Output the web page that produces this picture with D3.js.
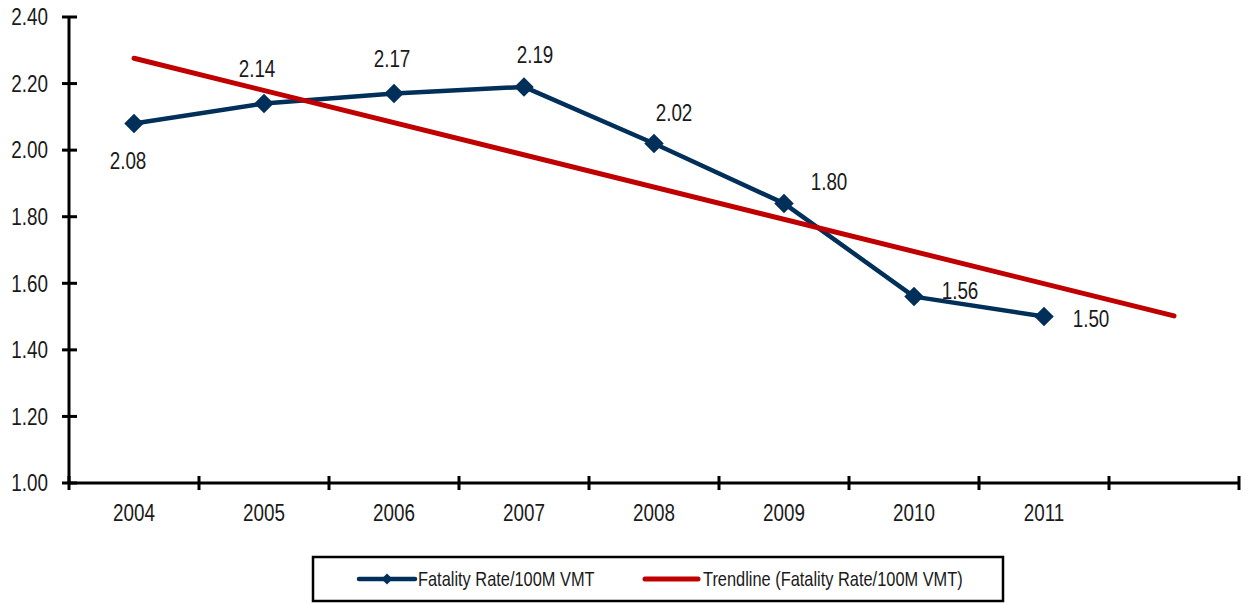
<!DOCTYPE html>
<html>
<head>
<meta charset="utf-8">
<script src="https://cdn.jsdelivr.net/npm/d3@7"></script>
<style>
  html, body { margin: 0; padding: 0; background: #fff; }
  svg { display: block; font-family: "Liberation Sans", Arial, sans-serif; }
</style>
</head>
<body>
<svg id="chart" width="1247" height="603"></svg>
<script>
// ---- data ----
const categories = ["2004", "2005", "2006", "2007", "2008", "2009", "2010", "2011", ""];
const fatalityRate = [2.08, 2.14, 2.17, 2.19, 2.02, 1.84, 1.56, 1.50];
const dataLabels = ["2.08", "2.14", "2.17", "2.19", "2.02", "1.80", "1.56", "1.50"];
const trendIndex = [0, 8];
const trendValues = [2.276, 1.502];
const yTicks = [1.00, 1.20, 1.40, 1.60, 1.80, 2.00, 2.20, 2.40];
const seriesNames = ["Fatality Rate/100M VMT", "Trendline (Fatality Rate/100M VMT)"];

(function () {
// ---- styles / layout ----
const navy = "#00305a";
const red = "#c00000";
const txt = "#1a1a1a";
const fs = 23;
const narrow = 0.82; // emulate a narrow (condensed) face
const labelOffsets = [[-6, 37], [-7, -35], [-2, -35], [11, -32], [20, -31], [45, -22], [46, -6], [47, 2]];

const svg = d3.select("#chart");
const pL = 69, pR = 1239, pT = 17, pB = 483;

const x = d3.scaleBand().domain(d3.range(categories.length)).range([pL, pR]).padding(0);
const cx = i => x(i) + x.bandwidth() / 2;
const y = d3.scaleLinear().domain([1.0, 2.4]).range([pB, pT]);

// helper: place condensed text
function place(sel, fx, fy) {
  sel.attr("x", 0).attr("y", 0)
     .attr("transform", (d, i) => `translate(${fx(d, i)},${fy(d, i)}) scale(${narrow},1)`);
  return sel;
}

// Y axis
const yAxis = svg.append("g").attr("transform", `translate(${pL},0)`);
yAxis.append("line").attr("x1", 0).attr("x2", 0).attr("y1", pT).attr("y2", pB)
  .attr("stroke", "#000").attr("stroke-width", 3);
yAxis.selectAll("line.tick").data(yTicks).enter().append("line").attr("class", "tick")
  .attr("x1", -7).attr("x2", 8).attr("y1", d => y(d)).attr("y2", d => y(d))
  .attr("stroke", "#000").attr("stroke-width", 3);
place(yAxis.selectAll("text").data(yTicks).enter().append("text"), () => -21, d => y(d))
  .attr("dy", "0.36em")
  .attr("text-anchor", "end").attr("font-size", fs).attr("fill", txt)
  .text(d => d.toFixed(2));

// X axis
const xAxis = svg.append("g").attr("transform", `translate(0,${pB})`);
xAxis.append("line").attr("x1", pL).attr("x2", pR).attr("y1", 0).attr("y2", 0)
  .attr("stroke", "#000").attr("stroke-width", 3);
const bounds = d3.range(categories.length + 1).map(i => i < categories.length ? x(i) : x(i - 1) + x.bandwidth());
xAxis.selectAll("line.tick").data(bounds).enter().append("line").attr("class", "tick")
  .attr("x1", d => d).attr("x2", d => d).attr("y1", -7).attr("y2", 7)
  .attr("stroke", "#000").attr("stroke-width", 3);
place(xAxis.selectAll("text").data(categories).enter().append("text"), (d, i) => cx(i), () => 37.5)
  .attr("text-anchor", "middle").attr("font-size", fs).attr("fill", txt)
  .text(d => d);

// Series line
const line = d3.line().x((d, i) => cx(i)).y(d => y(d));
svg.append("path").datum(fatalityRate).attr("d", line)
  .attr("fill", "none").attr("stroke", navy).attr("stroke-width", 4.5).attr("stroke-linejoin", "round");

// Trendline
const tline = d3.line().x((d, i) => cx(trendIndex[i])).y(d => y(d));
svg.append("path").datum(trendValues).attr("d", tline)
  .attr("fill", "none").attr("stroke", red).attr("stroke-width", 5).attr("stroke-linecap", "round");

// Markers
const diamond = d3.symbol().type(d3.symbolSquare).size(190);
svg.selectAll("path.marker").data(fatalityRate).enter().append("path").attr("class", "marker")
  .attr("d", diamond)
  .attr("transform", (d, i) => `translate(${cx(i)},${y(d)}) rotate(45)`)
  .attr("fill", navy);

// Data labels
place(svg.selectAll("text.lbl").data(fatalityRate).enter().append("text").attr("class", "lbl"),
      (d, i) => cx(i) + labelOffsets[i][0], (d, i) => y(d) + labelOffsets[i][1])
  .attr("dy", "0.36em").attr("text-anchor", "middle")
  .attr("font-size", fs).attr("fill", txt)
  .text((d, i) => dataLabels[i]);

// Legend
const lg = svg.append("g");
lg.append("rect").attr("x", 313).attr("y", 557).attr("width", 690).attr("height", 44)
  .attr("fill", "#fff").attr("stroke", "#000").attr("stroke-width", 2.5);
const ly = 579;
lg.append("line").attr("x1", 359).attr("x2", 415).attr("y1", ly).attr("y2", ly)
  .attr("stroke", navy).attr("stroke-width", 4.5).attr("stroke-linecap", "round");
lg.append("path").attr("d", d3.symbol().type(d3.symbolSquare).size(60))
  .attr("transform", `translate(387,${ly}) rotate(45)`).attr("fill", navy);
const legendX = [418, 703];
place(lg.selectAll("text").data(seriesNames).enter().append("text"), (d, i) => legendX[i], () => ly)
  .attr("dy", "0.36em").attr("font-size", 20).attr("fill", txt).text(d => d);
lg.append("line").attr("x1", 645).attr("x2", 698).attr("y1", ly).attr("y2", ly)
  .attr("stroke", red).attr("stroke-width", 5).attr("stroke-linecap", "round");
})();
</script>
</body>
</html>
